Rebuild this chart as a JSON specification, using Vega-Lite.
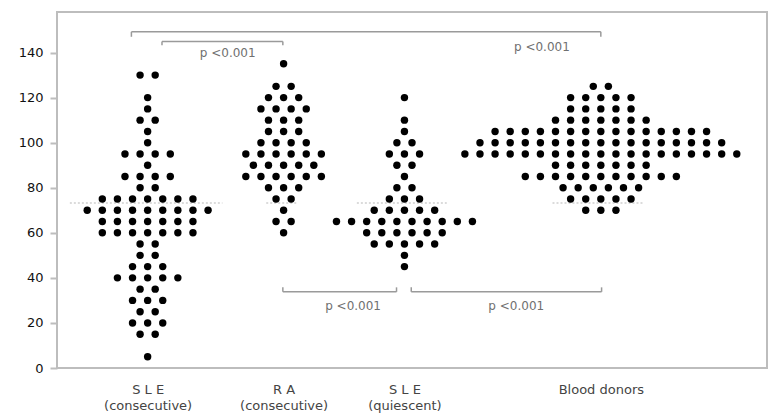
{
  "$schema": "https://vega.github.io/schema/vega-lite/v6.json",
  "width": 710,
  "height": 356,
  "autosize": {"type": "none"},
  "padding": {"left": 57, "top": 12, "right": 3, "bottom": 48},
  "background": "white",
  "config": {
    "view": {"stroke": "#bdbdbd", "strokeWidth": 2},
    "font": "DejaVu Sans"
  },
  "datasets": {
    "dots": [
      {"g":"SLEc","v":130,"s":-1},{"g":"SLEc","v":130,"s":1},
      {"g":"SLEc","v":120,"s":0},
      {"g":"SLEc","v":115,"s":0},
      {"g":"SLEc","v":110,"s":-1},{"g":"SLEc","v":110,"s":1},
      {"g":"SLEc","v":105,"s":0},
      {"g":"SLEc","v":100,"s":0},
      {"g":"SLEc","v":95,"s":-3},{"g":"SLEc","v":95,"s":-1},{"g":"SLEc","v":95,"s":1},{"g":"SLEc","v":95,"s":3},
      {"g":"SLEc","v":90,"s":0},
      {"g":"SLEc","v":85,"s":-3},{"g":"SLEc","v":85,"s":-1},{"g":"SLEc","v":85,"s":1},{"g":"SLEc","v":85,"s":3},
      {"g":"SLEc","v":80,"s":-1},{"g":"SLEc","v":80,"s":1},
      {"g":"SLEc","v":75,"s":-6},{"g":"SLEc","v":75,"s":-4},{"g":"SLEc","v":75,"s":-2},{"g":"SLEc","v":75,"s":0},{"g":"SLEc","v":75,"s":2},{"g":"SLEc","v":75,"s":4},{"g":"SLEc","v":75,"s":6},
      {"g":"SLEc","v":70,"s":-8},{"g":"SLEc","v":70,"s":-6},{"g":"SLEc","v":70,"s":-4},{"g":"SLEc","v":70,"s":-2},{"g":"SLEc","v":70,"s":0},{"g":"SLEc","v":70,"s":2},{"g":"SLEc","v":70,"s":4},{"g":"SLEc","v":70,"s":6},{"g":"SLEc","v":70,"s":8},
      {"g":"SLEc","v":65,"s":-6},{"g":"SLEc","v":65,"s":-4},{"g":"SLEc","v":65,"s":-2},{"g":"SLEc","v":65,"s":0},{"g":"SLEc","v":65,"s":2},{"g":"SLEc","v":65,"s":4},{"g":"SLEc","v":65,"s":6},
      {"g":"SLEc","v":60,"s":-6},{"g":"SLEc","v":60,"s":-4},{"g":"SLEc","v":60,"s":-2},{"g":"SLEc","v":60,"s":0},{"g":"SLEc","v":60,"s":2},{"g":"SLEc","v":60,"s":4},{"g":"SLEc","v":60,"s":6},
      {"g":"SLEc","v":55,"s":-1},{"g":"SLEc","v":55,"s":1},
      {"g":"SLEc","v":50,"s":-1},{"g":"SLEc","v":50,"s":1},
      {"g":"SLEc","v":45,"s":-2},{"g":"SLEc","v":45,"s":0},{"g":"SLEc","v":45,"s":2},
      {"g":"SLEc","v":40,"s":-4},{"g":"SLEc","v":40,"s":-2},{"g":"SLEc","v":40,"s":0},{"g":"SLEc","v":40,"s":2},{"g":"SLEc","v":40,"s":4},
      {"g":"SLEc","v":35,"s":-1},{"g":"SLEc","v":35,"s":1},
      {"g":"SLEc","v":30,"s":-2},{"g":"SLEc","v":30,"s":0},{"g":"SLEc","v":30,"s":2},
      {"g":"SLEc","v":25,"s":-1},{"g":"SLEc","v":25,"s":1},
      {"g":"SLEc","v":20,"s":-2},{"g":"SLEc","v":20,"s":0},{"g":"SLEc","v":20,"s":2},
      {"g":"SLEc","v":15,"s":-1},{"g":"SLEc","v":15,"s":1},
      {"g":"SLEc","v":5,"s":0},

      {"g":"RA","v":135,"s":0},
      {"g":"RA","v":125,"s":-1},{"g":"RA","v":125,"s":1},
      {"g":"RA","v":120,"s":-2},{"g":"RA","v":120,"s":0},{"g":"RA","v":120,"s":2},
      {"g":"RA","v":115,"s":-3},{"g":"RA","v":115,"s":-1},{"g":"RA","v":115,"s":1},{"g":"RA","v":115,"s":3},
      {"g":"RA","v":110,"s":-2},{"g":"RA","v":110,"s":0},{"g":"RA","v":110,"s":2},
      {"g":"RA","v":105,"s":-2},{"g":"RA","v":105,"s":0},{"g":"RA","v":105,"s":2},
      {"g":"RA","v":100,"s":-3},{"g":"RA","v":100,"s":-1},{"g":"RA","v":100,"s":1},{"g":"RA","v":100,"s":3},
      {"g":"RA","v":95,"s":-5},{"g":"RA","v":95,"s":-3},{"g":"RA","v":95,"s":-1},{"g":"RA","v":95,"s":1},{"g":"RA","v":95,"s":3},{"g":"RA","v":95,"s":5},
      {"g":"RA","v":90,"s":-4},{"g":"RA","v":90,"s":-2},{"g":"RA","v":90,"s":0},{"g":"RA","v":90,"s":2},{"g":"RA","v":90,"s":4},
      {"g":"RA","v":85,"s":-5},{"g":"RA","v":85,"s":-3},{"g":"RA","v":85,"s":-1},{"g":"RA","v":85,"s":1},{"g":"RA","v":85,"s":3},{"g":"RA","v":85,"s":5},
      {"g":"RA","v":80,"s":-2},{"g":"RA","v":80,"s":0},{"g":"RA","v":80,"s":2},
      {"g":"RA","v":75,"s":-1},{"g":"RA","v":75,"s":1},
      {"g":"RA","v":70,"s":0},
      {"g":"RA","v":65,"s":-1},{"g":"RA","v":65,"s":1},
      {"g":"RA","v":60,"s":0},

      {"g":"SLEq","v":120,"s":0},
      {"g":"SLEq","v":110,"s":0},
      {"g":"SLEq","v":105,"s":0},
      {"g":"SLEq","v":100,"s":-1},{"g":"SLEq","v":100,"s":1},
      {"g":"SLEq","v":95,"s":-2},{"g":"SLEq","v":95,"s":0},{"g":"SLEq","v":95,"s":2},
      {"g":"SLEq","v":90,"s":-1},{"g":"SLEq","v":90,"s":1},
      {"g":"SLEq","v":85,"s":0},
      {"g":"SLEq","v":80,"s":-1},{"g":"SLEq","v":80,"s":1},
      {"g":"SLEq","v":75,"s":-2},{"g":"SLEq","v":75,"s":0},{"g":"SLEq","v":75,"s":2},
      {"g":"SLEq","v":70,"s":-4},{"g":"SLEq","v":70,"s":-2},{"g":"SLEq","v":70,"s":0},{"g":"SLEq","v":70,"s":2},{"g":"SLEq","v":70,"s":4},
      {"g":"SLEq","v":65,"s":-9},{"g":"SLEq","v":65,"s":-7},{"g":"SLEq","v":65,"s":-5},{"g":"SLEq","v":65,"s":-3},{"g":"SLEq","v":65,"s":-1},{"g":"SLEq","v":65,"s":1},{"g":"SLEq","v":65,"s":3},{"g":"SLEq","v":65,"s":5},{"g":"SLEq","v":65,"s":7},{"g":"SLEq","v":65,"s":9},
      {"g":"SLEq","v":60,"s":-5},{"g":"SLEq","v":60,"s":-3},{"g":"SLEq","v":60,"s":-1},{"g":"SLEq","v":60,"s":1},{"g":"SLEq","v":60,"s":3},{"g":"SLEq","v":60,"s":5},
      {"g":"SLEq","v":55,"s":-4},{"g":"SLEq","v":55,"s":-2},{"g":"SLEq","v":55,"s":0},{"g":"SLEq","v":55,"s":2},{"g":"SLEq","v":55,"s":4},
      {"g":"SLEq","v":50,"s":0},
      {"g":"SLEq","v":45,"s":0},

      {"g":"BD","v":125,"s":-1},{"g":"BD","v":125,"s":1},
      {"g":"BD","v":120,"s":-4},{"g":"BD","v":120,"s":-2},{"g":"BD","v":120,"s":0},{"g":"BD","v":120,"s":2},{"g":"BD","v":120,"s":4},
      {"g":"BD","v":115,"s":-4},{"g":"BD","v":115,"s":-2},{"g":"BD","v":115,"s":0},{"g":"BD","v":115,"s":2},{"g":"BD","v":115,"s":4},
      {"g":"BD","v":110,"s":-6},{"g":"BD","v":110,"s":-4},{"g":"BD","v":110,"s":-2},{"g":"BD","v":110,"s":0},{"g":"BD","v":110,"s":2},{"g":"BD","v":110,"s":4},{"g":"BD","v":110,"s":6},
      {"g":"BD","v":105,"s":-14},{"g":"BD","v":105,"s":-12},{"g":"BD","v":105,"s":-10},{"g":"BD","v":105,"s":-8},{"g":"BD","v":105,"s":-6},{"g":"BD","v":105,"s":-4},{"g":"BD","v":105,"s":-2},{"g":"BD","v":105,"s":0},{"g":"BD","v":105,"s":2},{"g":"BD","v":105,"s":4},{"g":"BD","v":105,"s":6},{"g":"BD","v":105,"s":8},{"g":"BD","v":105,"s":10},{"g":"BD","v":105,"s":12},{"g":"BD","v":105,"s":14},
      {"g":"BD","v":100,"s":-16},{"g":"BD","v":100,"s":-14},{"g":"BD","v":100,"s":-12},{"g":"BD","v":100,"s":-10},{"g":"BD","v":100,"s":-8},{"g":"BD","v":100,"s":-6},{"g":"BD","v":100,"s":-4},{"g":"BD","v":100,"s":-2},{"g":"BD","v":100,"s":0},{"g":"BD","v":100,"s":2},{"g":"BD","v":100,"s":4},{"g":"BD","v":100,"s":6},{"g":"BD","v":100,"s":8},{"g":"BD","v":100,"s":10},{"g":"BD","v":100,"s":12},{"g":"BD","v":100,"s":14},{"g":"BD","v":100,"s":16},
      {"g":"BD","v":95,"s":-18},{"g":"BD","v":95,"s":-16},{"g":"BD","v":95,"s":-14},{"g":"BD","v":95,"s":-12},{"g":"BD","v":95,"s":-10},{"g":"BD","v":95,"s":-8},{"g":"BD","v":95,"s":-6},{"g":"BD","v":95,"s":-4},{"g":"BD","v":95,"s":-2},{"g":"BD","v":95,"s":0},{"g":"BD","v":95,"s":2},{"g":"BD","v":95,"s":4},{"g":"BD","v":95,"s":6},{"g":"BD","v":95,"s":8},{"g":"BD","v":95,"s":10},{"g":"BD","v":95,"s":12},{"g":"BD","v":95,"s":14},{"g":"BD","v":95,"s":16},{"g":"BD","v":95,"s":18},
      {"g":"BD","v":90,"s":-6},{"g":"BD","v":90,"s":-4},{"g":"BD","v":90,"s":-2},{"g":"BD","v":90,"s":0},{"g":"BD","v":90,"s":2},{"g":"BD","v":90,"s":4},{"g":"BD","v":90,"s":6},
      {"g":"BD","v":85,"s":-10},{"g":"BD","v":85,"s":-8},{"g":"BD","v":85,"s":-6},{"g":"BD","v":85,"s":-4},{"g":"BD","v":85,"s":-2},{"g":"BD","v":85,"s":0},{"g":"BD","v":85,"s":2},{"g":"BD","v":85,"s":4},{"g":"BD","v":85,"s":6},{"g":"BD","v":85,"s":8},{"g":"BD","v":85,"s":10},
      {"g":"BD","v":80,"s":-5},{"g":"BD","v":80,"s":-3},{"g":"BD","v":80,"s":-1},{"g":"BD","v":80,"s":1},{"g":"BD","v":80,"s":3},{"g":"BD","v":80,"s":5},
      {"g":"BD","v":75,"s":-4},{"g":"BD","v":75,"s":-2},{"g":"BD","v":75,"s":0},{"g":"BD","v":75,"s":2},{"g":"BD","v":75,"s":4},
      {"g":"BD","v":70,"s":-2},{"g":"BD","v":70,"s":0},{"g":"BD","v":70,"s":2}
    ],
    "brackets": [
      {"x":9.85,"x2":72,"v":149.2,"v2":149.2},
      {"x":9.85,"x2":9.85,"v":149.2,"v2":147},
      {"x":72,"x2":72,"v":149.2,"v2":147},
      {"x":13.9,"x2":29.9,"v":144.9,"v2":144.9},
      {"x":13.9,"x2":13.9,"v":144.9,"v2":143.2},
      {"x":29.9,"x2":29.9,"v":144.9,"v2":143.2},
      {"x":29.9,"x2":44.95,"v":33.8,"v2":33.8},
      {"x":29.9,"x2":29.9,"v":33.8,"v2":35.8},
      {"x":44.95,"x2":44.95,"v":33.8,"v2":35.8},
      {"x":46.9,"x2":72.1,"v":33.8,"v2":33.8},
      {"x":46.9,"x2":46.9,"v":33.8,"v2":35.8},
      {"x":72.1,"x2":72.1,"v":33.8,"v2":35.8}
    ],
    "pvalues": [
      {"x":64.2,"v":142.5,"t":"p <0.001"},
      {"x":22.6,"v":139.7,"t":"p <0.001"},
      {"x":39.2,"v":27.4,"t":"p <0.001"},
      {"x":60.8,"v":27.4,"t":"p <0.001"}
    ],
    "medians": [
      {"x":1.7,"x2":21.9,"v":73.2},
      {"x":27.7,"x2":31.9,"v":73.2},
      {"x":39.7,"x2":51.6,"v":73.2},
      {"x":65.6,"x2":77.6,"v":73.2}
    ]
  },
  "encoding": {
    "y": {
      "field": "v",
      "type": "quantitative",
      "scale": {"domain": [0, 158], "nice": false, "zero": false},
      "axis": {
        "title": null,
        "values": [0, 20, 40, 60, 80, 100, 120, 140],
        "grid": false,
        "domain": false,
        "tickColor": "#bdbdbd",
        "tickWidth": 2,
        "tickSize": 7,
        "labelPadding": 7,
        "labelFontSize": 13,
        "labelColor": "#111"
      }
    }
  },
  "layer": [
    {
      "layer": [
        {
          "data": {"name": "medians"},
          "mark": {"type": "rule", "color": "#cfcfcf", "strokeWidth": 1.5, "strokeDash": [2, 2]},
          "encoding": {
            "x": {"field": "x", "type": "quantitative", "scale": {"domain": [0, 94], "nice": false, "zero": false},
              "axis": {
                "title": null,
                "values": [12, 30, 46, 72],
                "grid": false,
                "domain": false,
                "ticks": false,
                "labelPadding": 15,
                "labelFontSize": 13,
                "labelColor": "#444",
                "labelLineHeight": 16.5,
                "labelExpr": "datum.value == 12 ? ['S L E', '(consecutive)'] : datum.value == 30 ? ['R A', '(consecutive)'] : datum.value == 46 ? ['S L E', '(quiescent)'] : 'Blood donors'"
              }
            },
            "x2": {"field": "x2"}
          }
        },
        {
          "data": {"name": "brackets"},
          "mark": {"type": "rule", "color": "#9a9a9a", "strokeWidth": 1.5},
          "encoding": {
            "x": {"field": "x", "type": "quantitative"},
            "x2": {"field": "x2"},
            "y2": {"field": "v2"}
          }
        },
        {
          "data": {"name": "pvalues"},
          "mark": {"type": "text", "color": "#707070", "fontSize": 12},
          "encoding": {
            "x": {"field": "x", "type": "quantitative"},
            "text": {"field": "t"}
          }
        }
      ]
    },
    {
      "data": {"name": "dots"},
      "transform": [{"filter": "datum.g == 'SLEc'"}],
      "mark": {"type": "circle", "color": "#000", "opacity": 1, "size": 55},
      "encoding": {
        "x": {"field": "s", "type": "quantitative", "scale": {"domain": [-12, 82], "nice": false, "zero": false}, "axis": null}
      }
    },
    {
      "data": {"name": "dots"},
      "transform": [{"filter": "datum.g == 'RA'"}],
      "mark": {"type": "circle", "color": "#000", "opacity": 1, "size": 55},
      "encoding": {
        "x": {"field": "s", "type": "quantitative", "scale": {"domain": [-30, 64], "nice": false, "zero": false}, "axis": null}
      }
    },
    {
      "data": {"name": "dots"},
      "transform": [{"filter": "datum.g == 'SLEq'"}],
      "mark": {"type": "circle", "color": "#000", "opacity": 1, "size": 55},
      "encoding": {
        "x": {"field": "s", "type": "quantitative", "scale": {"domain": [-46, 48], "nice": false, "zero": false}, "axis": null}
      }
    },
    {
      "data": {"name": "dots"},
      "transform": [{"filter": "datum.g == 'BD'"}],
      "mark": {"type": "circle", "color": "#000", "opacity": 1, "size": 55},
      "encoding": {
        "x": {"field": "s", "type": "quantitative", "scale": {"domain": [-72, 22], "nice": false, "zero": false}, "axis": null}
      }
    }
  ],
  "resolve": {"scale": {"x": "independent"}, "axis": {"x": "independent"}}
}
